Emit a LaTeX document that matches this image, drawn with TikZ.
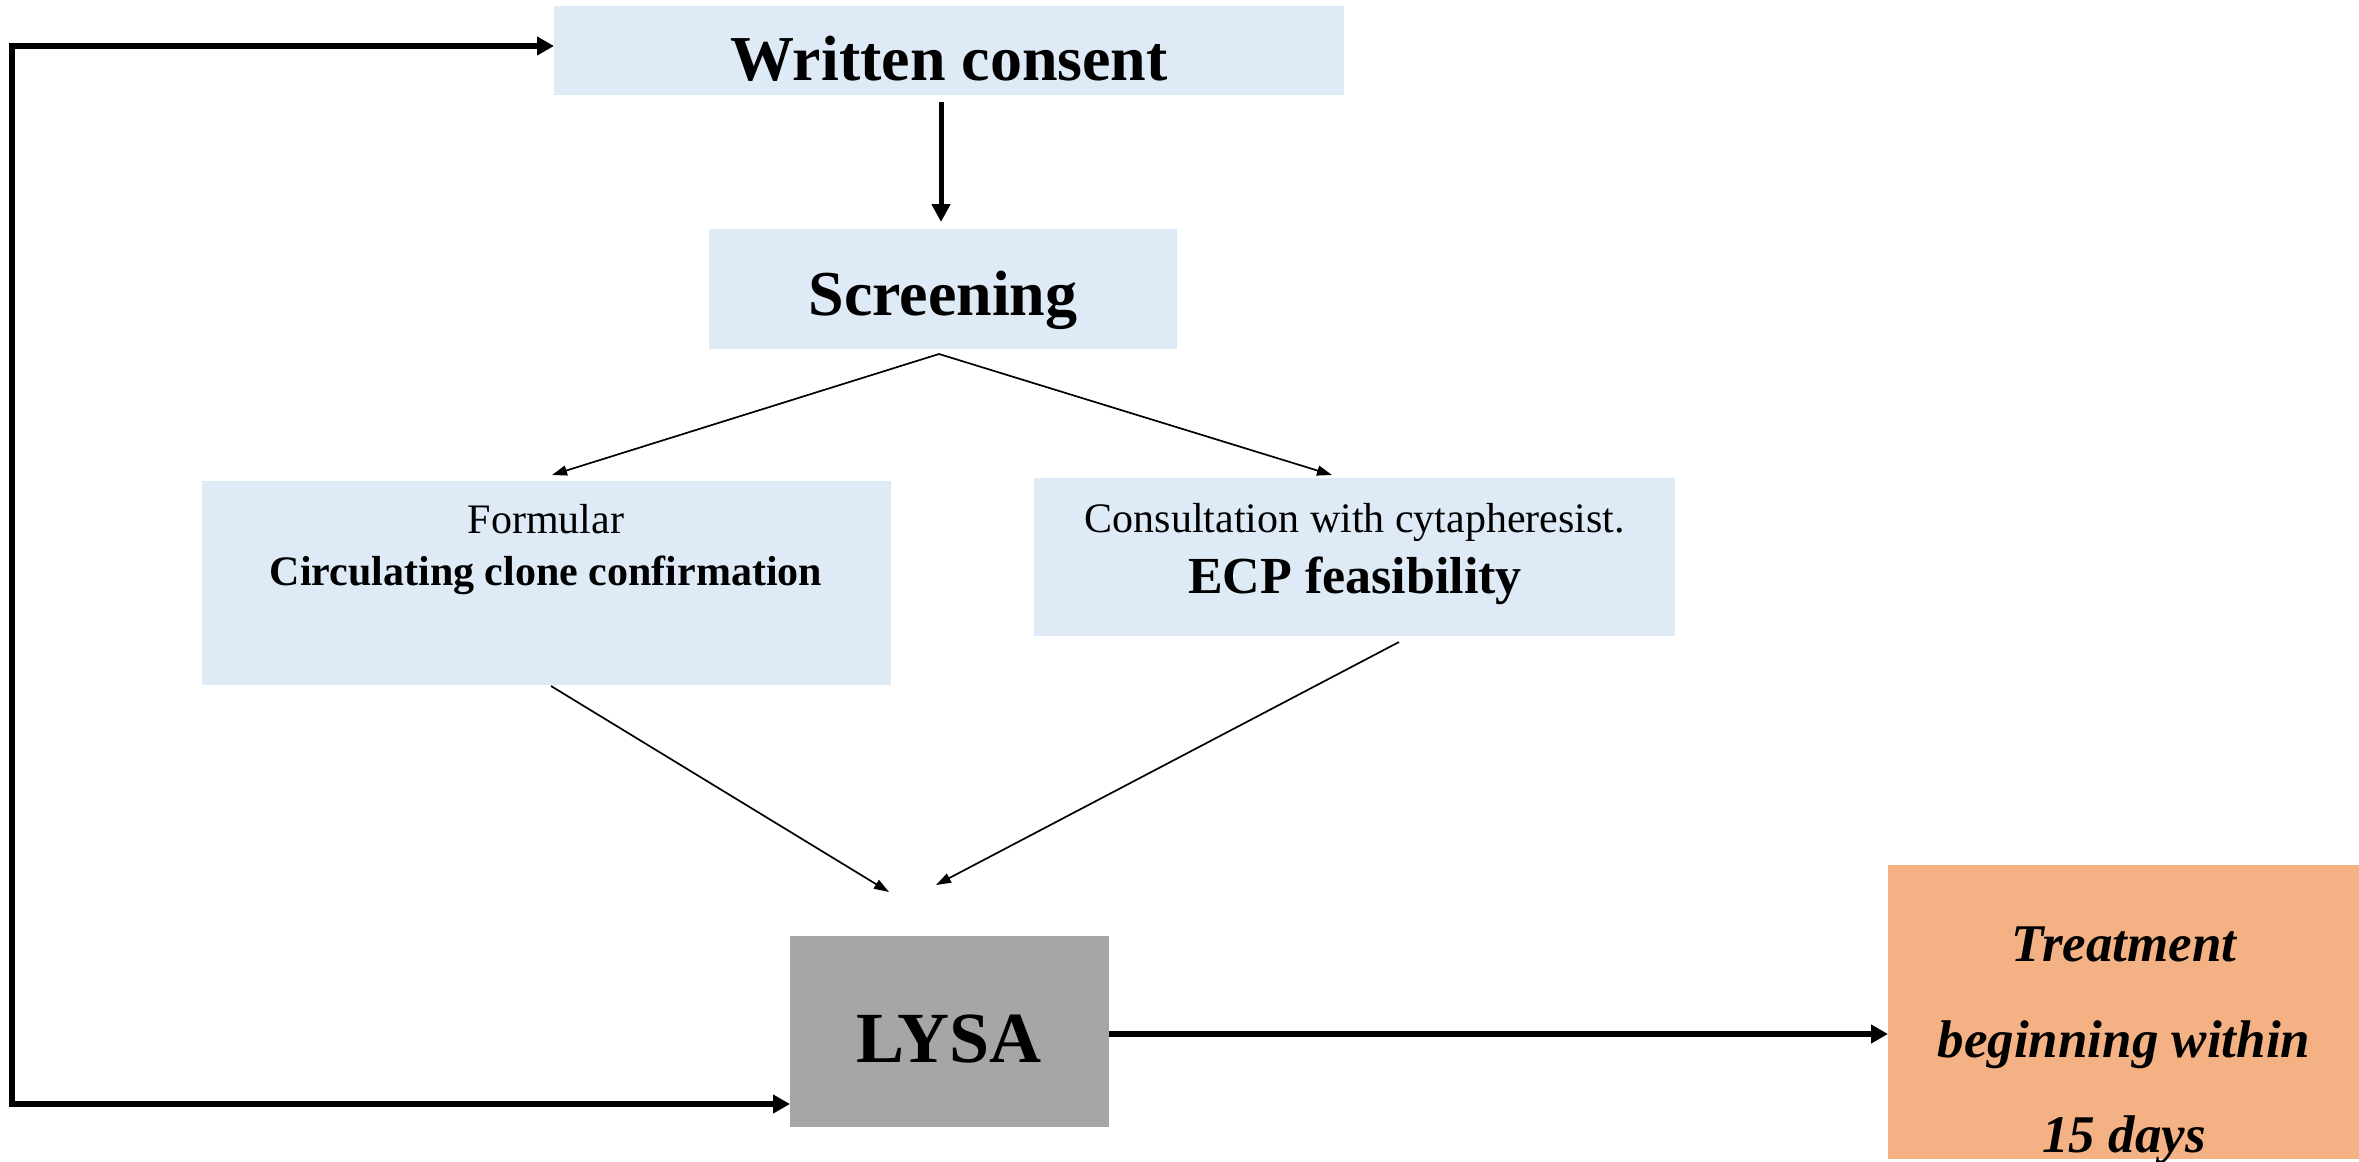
\documentclass[tikz,border=0pt]{standalone}
\usepackage{fontspec}
\setmainfont{Liberation Serif}
\usetikzlibrary{arrows.meta}
\definecolor{boxblue}{HTML}{DEEAF6}
\definecolor{boxgray}{HTML}{A6A6A6}
\definecolor{boxorange}{HTML}{F4B183}
\begin{document}
\begin{tikzpicture}[x=1pt,y=-1pt,
  box/.style={inner sep=0pt, outer sep=0pt, anchor=north west, draw=none},
  txt/.style={anchor=base, inner sep=0pt},
  thinarrow/.style={line width=1.7pt, -{Triangle[length=15pt,width=10pt]}},
  midarrow/.style={line width=5pt, -{Triangle[length=18pt,width=18pt]}},
  thickarrow/.style={line width=5.5pt, -{Triangle[length=17pt,width=18pt]}},
]
\useasboundingbox (0,0) rectangle (2359,1162);

% boxes
\node[box, fill=boxblue, minimum width=790pt, minimum height=89pt] (wc) at (554,6) {};
\node[box, fill=boxblue, minimum width=468pt, minimum height=120pt] (scr) at (709,229) {};
\node[box, fill=boxblue, minimum width=689pt, minimum height=204pt] (fm) at (202,481) {};
\node[box, fill=boxblue, minimum width=641pt, minimum height=158pt] (ecp) at (1034,478) {};
\node[box, fill=boxgray, minimum width=319pt, minimum height=191pt] (lysa) at (790,936) {};
\node[box, fill=boxorange, minimum width=471pt, minimum height=294pt] (tr) at (1888,865) {};

% texts
\node[txt, font=\bfseries\fontsize{64}{64}\selectfont] (wct) at (949,80) {Written consent};
\node[txt, font=\bfseries\fontsize{64}{64}\selectfont] (scrt) at (943,315) {Screening};
\node[txt, font=\fontsize{42}{42}\selectfont] (fmt1) at (546,533) {Formular};
\node[txt, font=\bfseries\fontsize{42}{42}\selectfont] (fmt2) at (546,585) {Circulating clone confirmation};
\node[txt, font=\fontsize{42}{42}\selectfont] (ecpt1) at (1355,532) {Consultation with cytapheresist.};
\node[txt, font=\bfseries\fontsize{52}{52}\selectfont] (ecpt2) at (1355,593) {ECP feasibility};
\node[txt, font=\bfseries\fontsize{72}{72}\selectfont] (lysat) at (949,1062) {LYSA};
\node[txt, font=\bfseries\itshape\fontsize{53}{53}\selectfont] (trt1) at (2124,961) {Treatment};
\node[txt, font=\bfseries\itshape\fontsize{53}{53}\selectfont] (trt2) at (2124,1057) {beginning within};
\node[txt, font=\bfseries\itshape\fontsize{53}{53}\selectfont] (trt3) at (2124,1152) {15 days};

% free ends of connectors
\coordinate (wcS) at (941,102);
\coordinate (scrN) at (941,222);
\coordinate (scrS) at (939,354);
\coordinate (fmN) at (552,475);
\coordinate (ecpN) at (1332,475);
\coordinate (fmS) at (551,686);
\coordinate (ecpS) at (1399,642);
\coordinate (lysaA) at (889,892);
\coordinate (lysaB) at (936,885);
\coordinate (lt) at (12,46);
\coordinate (lb) at (12,1104);
\coordinate (ly) at (0,1034);

% connectors
\draw[midarrow] (wcS) -- (scrN);
\draw[thinarrow] (scrS) -- (fmN);
\draw[thinarrow] (scrS) -- (ecpN);
\draw[thinarrow] (fmS) -- (lysaA);
\draw[thinarrow] (ecpS) -- (lysaB);
\draw[line width=5.5pt, line cap=rect] (lt) -- (lb);
\draw[thickarrow] (lt) -- (wc.west |- lt);
\draw[thickarrow] (lb) -- (lysa.west |- lb);
\draw[thickarrow] (lysa.east |- ly) -- (tr.west |- ly);
\end{tikzpicture}
\end{document}
